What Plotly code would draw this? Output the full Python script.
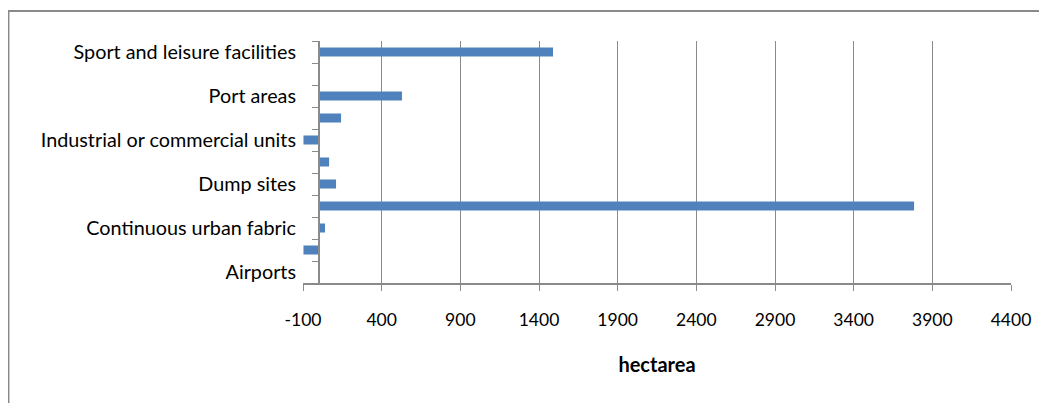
import plotly.graph_objects as go

categories = [
    "Airports",
    "Construction sites",
    "Continuous urban fabric",
    "Discontinuous urban fabric",
    "Dump sites",
    "Green urban areas",
    "Industrial or commercial units",
    "Mineral extraction sites",
    "Port areas",
    "Road and rail networks and associated land",
    "Sport and leisure facilities",
]
values = [0, -97, 40, 3784, 110, 66, -97, 142, 529, 0, 1489]

x_tick_vals = [-100, 400, 900, 1400, 1900, 2400, 2900, 3400, 3900, 4400]
x_tick_text = ["-100", "400", "900", "1400", "1900", "2400", "2900", "3400", "3900", "4400"]
x_min, x_max = -100, 4400

shown_labels = [c if i % 2 == 0 else "" for i, c in enumerate(categories)]

GRID = "#8a8a8a"
FONT = "Lato"

fig = go.Figure(
    go.Bar(
        x=values,
        y=categories,
        orientation="h",
        marker=dict(color="#4F81BD", line=dict(width=0)),
        hoverinfo="x+y",
    )
)

zero_pos = (0 - x_min) / (x_max - x_min)

fig.update_layout(
    width=1039,
    height=395,
    margin=dict(l=295, r=36, t=33, b=120),
    paper_bgcolor="white",
    plot_bgcolor="white",
    bargap=0.59,
    showlegend=False,
    font=dict(family=FONT, size=17.5, color="#000000"),
    xaxis=dict(
        range=[x_min, x_max],
        tickmode="array",
        tickvals=x_tick_vals,
        ticktext=x_tick_text,
        showgrid=True,
        gridcolor=GRID,
        gridwidth=1.3,
        zeroline=False,
        showline=True,
        linecolor=GRID,
        linewidth=1.5,
        ticks="outside",
        ticklen=6,
        tickwidth=1.3,
        tickcolor=GRID,
        ticklabelstandoff=14,
        tickfont=dict(family=FONT, size=17.5),
        title=dict(text="<b>hectarea</b>", font=dict(family=FONT, size=20), standoff=29),
        domain=[0, 1],
    ),
    yaxis=dict(
        categoryorder="array",
        categoryarray=categories,
        range=[-0.5, len(categories) - 0.5],
        tickmode="array",
        tickvals=categories,
        ticktext=shown_labels,
        tickson="boundaries",
        ticks="outside",
        ticklen=6,
        tickwidth=1.3,
        tickcolor=GRID,
        showline=True,
        linecolor=GRID,
        linewidth=1.5,
        showgrid=False,
        zeroline=False,
        anchor="free",
        position=zero_pos,
        ticklabelstandoff=18,
        tickfont=dict(family=FONT, size=19.8),
    ),
    shapes=[
        dict(
            type="rect",
            xref="paper",
            yref="paper",
            x0=-0.416,
            x1=1.2,
            y0=-1.0,
            y1=1.124,
            line=dict(color="#8a8a8a", width=2),
            fillcolor="rgba(0,0,0,0)",
            layer="below",
        )
    ],
)

fig.write_html("out.html")
